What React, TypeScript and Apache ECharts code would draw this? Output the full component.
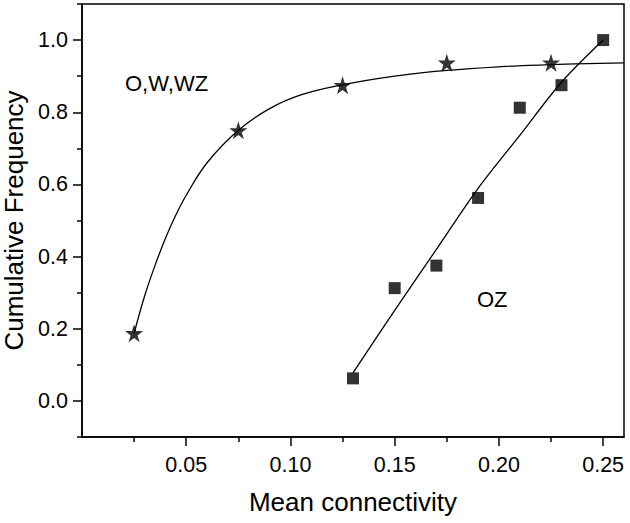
import React, { useEffect, useRef } from "react";
import * as echarts from "echarts";

// Scatter data: O,W,WZ (stars)
const starX = [0.025, 0.075, 0.125, 0.175, 0.225];
const starY = [0.1875, 0.75, 0.875, 0.9375, 0.9375];

// Fitted curve for O,W,WZ
const starFitX = [0.025, 0.03, 0.035, 0.04, 0.045, 0.05, 0.06, 0.075, 0.09, 0.105, 0.125, 0.15, 0.175, 0.2, 0.225, 0.26];
const starFitY = [0.187, 0.29, 0.375, 0.45, 0.515, 0.57, 0.66, 0.75, 0.81, 0.848, 0.876, 0.9, 0.916, 0.926, 0.932, 0.937];

// Scatter data: OZ (squares)
const ozX = [0.13, 0.15, 0.17, 0.19, 0.21, 0.23, 0.25];
const ozY = [0.0625, 0.3125, 0.375, 0.5625, 0.8125, 0.875, 1.0];

// Fitted line for OZ
const ozFitX = [0.13, 0.15, 0.17, 0.19, 0.21, 0.23, 0.25];
const ozFitY = [0.078, 0.251, 0.42, 0.589, 0.736, 0.883, 1.0];

// Ticks
const xMajor = [0.05, 0.1, 0.15, 0.2, 0.25];
const xMinor = [0.025, 0.075, 0.125, 0.175, 0.225];
const yMajor = [0.0, 0.2, 0.4, 0.6, 0.8, 1.0];
const yMinor = [-0.1, 0.1, 0.3, 0.5, 0.7, 0.9, 1.1];

const FONT = "'Liberation Sans', Arial, sans-serif";
const STAR =
  "path://M50,0 L61.2,34.5 L97.6,34.5 L68.2,55.9 L79.4,90.5 L50,69.1 L20.6,90.5 L31.8,55.9 L2.4,34.5 L38.8,34.5 Z";

const zip = (xs: number[], ys: number[]) => xs.map((x, i) => [x, ys[i]]);

export default function App() {
  const ref = useRef<HTMLDivElement>(null);
  useEffect(() => {
    const chart = echarts.init(ref.current!, null, { renderer: "svg" });
    const axisBase = { type: "value" as const, min: 0, max: 0.26 };
    const yBase = { type: "value" as const, min: -0.1, max: 1.1 };
    chart.setOption({
      animation: false,
      backgroundColor: "#fff",
      grid: {
        left: 82,
        top: 4,
        right: 6,
        bottom: 86,
        containLabel: false,
        outerBoundsMode: "none",
        show: true,
        borderColor: "#000",
        borderWidth: 1.5,
      },
      xAxis: [
        {
          ...axisBase,
          name: "Mean connectivity",
          nameLocation: "middle",
          nameGap: 52,
          nameTextStyle: { fontFamily: FONT, fontSize: 26, color: "#000" },
          axisLine: { show: true, onZero: false, lineStyle: { color: "#000", width: 1.5 } },
          axisTick: { show: true, inside: false, length: 9, customValues: xMajor, lineStyle: { color: "#000", width: 1.5 } },
          axisLabel: {
            show: true,
            customValues: xMajor,
            margin: 17,
            fontFamily: FONT,
            fontSize: 21.5,
            color: "#000",
            formatter: (v: number) => v.toFixed(2),
          },
          splitLine: { show: false },
        },
        {
          ...axisBase,
          position: "bottom",
          axisLine: { show: false, onZero: false },
          axisTick: { show: true, inside: false, length: 5, customValues: xMinor, lineStyle: { color: "#000", width: 1.5 } },
          axisLabel: { show: false },
          splitLine: { show: false },
        },
      ],
      yAxis: [
        {
          ...yBase,
          name: "Cumulative Frequency",
          nameLocation: "middle",
          nameGap: 52,
          nameTextStyle: { fontFamily: FONT, fontSize: 26, color: "#000" },
          axisLine: { show: true, onZero: false, lineStyle: { color: "#000", width: 1.5 } },
          axisTick: { show: true, inside: false, length: 9, customValues: yMajor, lineStyle: { color: "#000", width: 1.5 } },
          axisLabel: {
            show: true,
            customValues: yMajor,
            margin: 14,
            fontFamily: FONT,
            fontSize: 21.5,
            color: "#000",
            formatter: (v: number) => v.toFixed(1),
          },
          splitLine: { show: false },
        },
        {
          ...yBase,
          position: "left",
          axisLine: { show: false, onZero: false },
          axisTick: { show: true, inside: false, length: 5, customValues: yMinor, lineStyle: { color: "#000", width: 1.5 } },
          axisLabel: { show: false },
          splitLine: { show: false },
        },
      ],
      series: [
        {
          type: "line",
          data: zip(starFitX, starFitY),
          smooth: 0.4,
          showSymbol: false,
          lineStyle: { color: "#000", width: 1.3 },
          silent: true,
          z: 2,
        },
        {
          type: "line",
          data: zip(ozFitX, ozFitY),
          smooth: 0.3,
          showSymbol: false,
          lineStyle: { color: "#000", width: 1.3 },
          silent: true,
          z: 2,
        },
        {
          type: "scatter",
          data: zip(starX, starY),
          symbol: STAR,
          symbolSize: 18,
          itemStyle: { color: "#000" },
          z: 3,
        },
        {
          type: "scatter",
          data: zip(ozX, ozY),
          symbol: "rect",
          symbolSize: 12,
          itemStyle: { color: "#000" },
          z: 3,
        },
      ],
      graphic: [
        {
          type: "text",
          left: 125,
          top: 72,
          style: { text: "O,W,WZ", fontFamily: FONT, fontSize: 22, fill: "#000" },
        },
        {
          type: "text",
          left: 477,
          top: 288,
          style: { text: "OZ", fontFamily: FONT, fontSize: 22, fill: "#000" },
        },
      ],
    });
    return () => chart.dispose();
  }, []);
  return <div ref={ref} style={{ width: 630, height: 523, position: "absolute", left: 0, top: 0 }} />;
}
